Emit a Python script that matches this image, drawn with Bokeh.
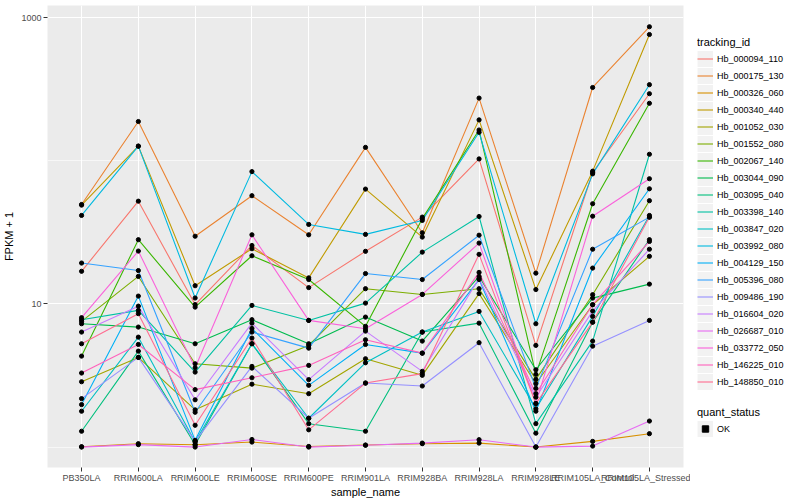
from bokeh.plotting import figure
from bokeh.models import (ColumnDataSource, FactorRange, Range1d, FixedTicker,
                          PrintfTickFormatter, Legend, LegendItem)
from bokeh.layouts import row
from bokeh.embed import file_html
from bokeh.resources import INLINE

sample_names = ["PB350LA", "RRIM600LA", "RRIM600LE", "RRIM600SE", "RRIM600PE",
                "RRIM901LA", "RRIM928BA", "RRIM928LA", "RRIM928LE",
                "RRIM105LA_Control", "RRIM105LA_Stressed"]

Hb_000094_110 = [16.9, 52.2, 9.9, 25.6, 13.0, 23.3, 40.4, 103, 5.13, 82.8, 294]
Hb_000175_130 = [49.5, 188, 29.7, 57, 30.4, 124, 31.4, 274, 16.4, 325, 863]
Hb_000326_060 = [1.006, 1.056, 1.039, 1.084, 1.01, 1.033, 1.056, 1.066, 1.0, 1.096, 1.24]
Hb_000340_440 = [49.0, 126.5, 13.4, 24.3, 15.2, 63.4, 29.3, 193, 12.6, 84.6, 762]
Hb_001052_030 = [2.86, 4.23, 1.82, 2.75, 2.36, 4.14, 3.17, 11.8, 2.77, 9.87, 21.5]
Hb_001552_080 = [7.55, 15.56, 3.82, 3.56, 5.13, 12.77, 11.65, 12.77, 2.97, 11.6, 52.6]
Hb_002067_140 = [4.32, 28.1, 9.5, 21.7, 14.8, 6.97, 39.4, 164, 3.22, 50.1, 252]
Hb_003044_090 = [7.27, 6.89, 5.27, 7.76, 5.27, 8.09, 5.5, 15.56, 3.47, 10.98, 13.75]
Hb_003095_040 = [1.29, 4.68, 1.039, 5.27, 1.457, 1.29, 6.36, 7.34, 1.25, 7.46, 28.1]
Hb_003398_140 = [7.76, 9.01, 3.34, 9.76, 7.67, 10.13, 23.0, 40.8, 1.457, 5.5, 111]
Hb_003847_020 = [1.78, 5.86, 1.084, 5.27, 1.59, 3.88, 6.36, 8.86, 1.85, 8.18, 41.5]
Hb_003992_080 = [41.5, 126.5, 11.0, 84, 35.9, 30.6, 38.3, 158, 7.27, 81, 340]
Hb_004129_150 = [1.98, 11.34, 1.114, 6.74, 2.70, 5.21, 4.53, 14.8, 1.78, 17.8, 63.7]
Hb_005396_080 = [19.3, 17.1, 1.75, 6.36, 4.91, 16.3, 14.8, 30.2, 2.57, 24.1, 40.4]
Hb_009486_190 = [2.18, 4.23, 1.096, 3.66, 1.59, 2.80, 2.67, 5.36, 1.0, 5.07, 7.67]
Hb_016604_020 = [6.36, 9.65, 2.14, 7.34, 2.96, 6.46, 3.38, 15.1, 2.23, 8.91, 24.1]
Hb_026687_010 = [1.0, 1.04, 1.0, 1.13, 1.0, 1.03, 1.066, 1.126, 1.0, 1.016, 1.52]
Hb_033772_050 = [8.01, 23.4, 3.58, 30.4, 7.67, 6.71, 11.65, 26.6, 2.02, 41.0, 74.9]
Hb_146225_010 = [3.29, 5.21, 2.52, 3.05, 3.72, 5.62, 4.53, 16.6, 2.36, 9.87, 27.3]
Hb_148850_010 = [5.27, 8.55, 1.42, 5.77, 1.32, 2.80, 3.26, 22.2, 2.01, 7.46, 40.4]

tracking_ids = ["Hb_000094_110", "Hb_000175_130", "Hb_000326_060", "Hb_000340_440",
                "Hb_001052_030", "Hb_001552_080", "Hb_002067_140", "Hb_003044_090",
                "Hb_003095_040", "Hb_003398_140", "Hb_003847_020", "Hb_003992_080",
                "Hb_004129_150", "Hb_005396_080", "Hb_009486_190", "Hb_016604_020",
                "Hb_026687_010", "Hb_033772_050", "Hb_146225_010", "Hb_148850_010"]

series_values = [Hb_000094_110, Hb_000175_130, Hb_000326_060, Hb_000340_440,
                 Hb_001052_030, Hb_001552_080, Hb_002067_140, Hb_003044_090,
                 Hb_003095_040, Hb_003398_140, Hb_003847_020, Hb_003992_080,
                 Hb_004129_150, Hb_005396_080, Hb_009486_190, Hb_016604_020,
                 Hb_026687_010, Hb_033772_050, Hb_146225_010, Hb_148850_010]

line_colors = ["#F8766D", "#EA8331", "#D89000", "#C09B00", "#A3A500", "#7CAE00",
               "#39B600", "#00BB4E", "#00BF7D", "#00C1A3", "#00BFC4", "#00BAE0",
               "#00B0F6", "#35A2FF", "#9590FF", "#C77CFF", "#E76BF3", "#FA62DB",
               "#FF62BC", "#FF6C91"]

quant_status = ["OK"]
y_tick_values = [10, 1000]
y_minor_values = [1, 100]

FONT = "Liberation Sans"
TOP = 5
BOTTOM = 30

p = figure(width=690, height=500, title=None,
           x_range=FactorRange(factors=sample_names, range_padding=0.2 / 11),
           y_axis_type="log", y_range=Range1d(0.72, 1215),
           output_backend="svg", toolbar_location=None,
           min_border_left=10, min_border_right=7, min_border_top=TOP,
           min_border_bottom=BOTTOM,
           background_fill_color="#EBEBEB", border_fill_color="white",
           outline_line_color=None,
           x_axis_label="sample_name", y_axis_label="FPKM + 1")

for vals, col in zip(series_values, line_colors):
    src = ColumnDataSource(dict(x=sample_names, y=vals))
    p.line("x", "y", source=src, line_color=col, line_width=1.1)

for vals in series_values:
    src = ColumnDataSource(dict(x=sample_names, y=vals))
    p.scatter("x", "y", source=src, size=4.2, color="black")

yticker = FixedTicker(ticks=y_tick_values, minor_ticks=y_minor_values)
p.yaxis.ticker = yticker
p.ygrid.ticker = yticker
p.yaxis.formatter = PrintfTickFormatter(format="%d")

p.xgrid.grid_line_color = "white"
p.xgrid.grid_line_width = 1
p.ygrid.grid_line_color = "white"
p.ygrid.grid_line_width = 1
p.ygrid.minor_grid_line_color = "white"
p.ygrid.minor_grid_line_width = 0.6

for ax in (p.xaxis[0], p.yaxis[0]):
    ax.axis_line_color = None
    ax.major_tick_line_color = "#333333"
    ax.major_tick_out = 4
    ax.major_tick_in = 0
    ax.minor_tick_line_color = None
    ax.major_label_text_font = FONT
    ax.major_label_text_font_size = "9px"
    ax.major_label_text_color = "#4D4D4D"
    ax.axis_label_text_font = FONT
    ax.axis_label_text_font_size = "11px"
    ax.axis_label_text_font_style = "normal"
    ax.axis_label_text_color = "black"
    ax.major_label_standoff = 2
    ax.axis_label_standoff = 3

p.xaxis[0].major_label_standoff = 1
p.xaxis[0].axis_label_standoff = 0

# legend panel (dummy renderers kept outside the visible range)
leg = figure(width=110, height=500, title=None,
             x_range=Range1d(0, 1), y_range=Range1d(0, 1),
             output_backend="svg", toolbar_location=None,
             x_axis_location=None, y_axis_location=None,
             min_border_left=7, min_border_right=0, min_border_top=TOP,
             min_border_bottom=BOTTOM,
             outline_line_color=None, background_fill_color="white",
             border_fill_color="white")
leg.grid.visible = False

off_x = [5, 6]
off_y = [5, 5]

items = []
for tid, col in zip(tracking_ids, line_colors):
    bg = leg.line(x=off_x, y=off_y, line_color="#F2F2F2", line_width=16)
    ln = leg.line(x=off_x, y=off_y, line_color=col, line_width=1.1)
    items.append(LegendItem(label=tid, renderers=[bg, ln]))

ok_items = []
for st in quant_status:
    bg2 = leg.line(x=off_x, y=off_y, line_color="#F2F2F2", line_width=16)
    pt = leg.scatter(x=off_x, y=off_y, size=4, color="black", marker="square")
    ok_items.append(LegendItem(label=st, renderers=[bg2, pt]))


def style(lg):
    lg.padding = 0
    lg.margin = 0
    lg.spacing = 0
    lg.glyph_width = 16
    lg.glyph_height = 17
    lg.label_height = 17
    lg.label_standoff = 4
    lg.label_text_font = FONT
    lg.label_text_font_size = "9px"
    lg.label_text_color = "black"
    lg.title_text_font = FONT
    lg.title_text_font_size = "11px"
    lg.title_text_font_style = "normal"
    lg.title_text_color = "black"
    lg.title_standoff = 2
    lg.border_line_color = None
    lg.background_fill_alpha = 0


lg1 = Legend(items=items, title="tracking_id", location=(0, 77))
style(lg1)
leg.add_layout(lg1)

lg2 = Legend(items=ok_items, title="quant_status", location=(0, 30))
style(lg2)
leg.add_layout(lg2)

layout = row(p, leg)
open("out.html", "w").write(file_html(layout, INLINE))
